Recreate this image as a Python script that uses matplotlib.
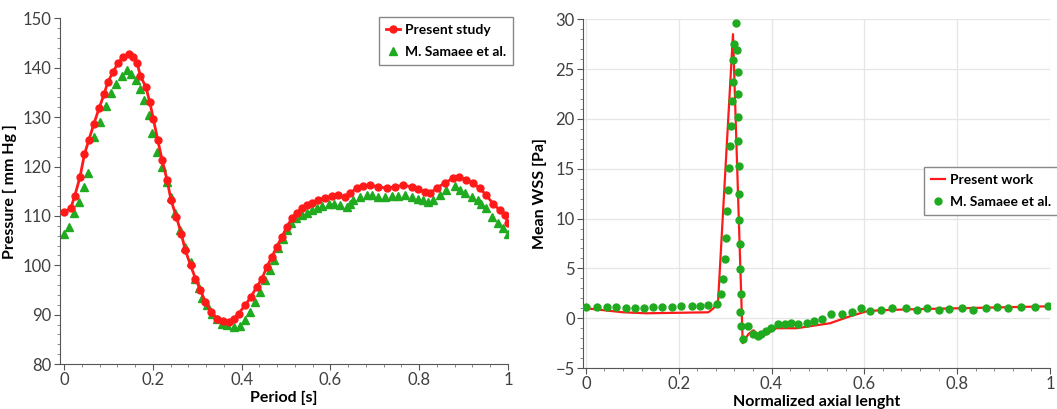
import matplotlib
matplotlib.use("Agg")
import matplotlib.pyplot as plt
from matplotlib.ticker import MultipleLocator

plt.rcParams['font.family'] = ['Lato', 'DejaVu Sans']

# Pressure over one period
t_present = [0.0, 0.015, 0.024, 0.036, 0.046, 0.056, 0.067, 0.079, 0.090, 0.099,
             0.111, 0.121, 0.133, 0.146, 0.156, 0.165, 0.172, 0.184, 0.193, 0.201,
             0.211, 0.221, 0.232, 0.241, 0.253, 0.264, 0.273, 0.285, 0.296, 0.307,
             0.318, 0.331, 0.345, 0.358, 0.371, 0.382, 0.393, 0.408, 0.421, 0.434,
             0.446, 0.457, 0.468, 0.479, 0.491, 0.502, 0.513, 0.524, 0.536, 0.547,
             0.558, 0.573, 0.588, 0.603, 0.618, 0.633, 0.644, 0.659, 0.674, 0.689,
             0.708, 0.727, 0.745, 0.764, 0.783, 0.798, 0.813, 0.824, 0.839, 0.858,
             0.876, 0.890, 0.906, 0.921, 0.936, 0.951, 0.966, 0.981, 0.993, 1.0]
p_present = [110.8, 111.5, 114.0, 117.9, 122.5, 125.4, 128.6, 131.8, 134.6, 137.2,
             139.2, 140.9, 142.2, 142.7, 142.2, 140.9, 138.3, 136.2, 133.1, 129.7,
             125.4, 121.3, 117.3, 113.2, 109.8, 106.4, 103.1, 100.0, 97.3, 95.0,
             92.6, 90.6, 89.2, 88.8, 88.6, 89.2, 90.2, 91.9, 93.6, 95.6,
             97.3, 99.7, 101.7, 103.7, 105.8, 107.8, 109.5, 110.6, 111.5, 112.2,
             112.7, 113.2, 113.7, 114.0, 114.2, 113.9, 114.6, 115.6, 116.1, 116.2,
             115.9, 115.6, 115.9, 116.2, 115.9, 115.4, 114.9, 114.6, 115.6, 116.7,
             117.6, 117.9, 117.3, 116.6, 115.6, 114.2, 112.5, 111.2, 110.2, 108.5]

t_samaee = [0.0, 0.011, 0.022, 0.034, 0.045, 0.054, 0.067, 0.081, 0.094, 0.105,
            0.118, 0.131, 0.142, 0.151, 0.161, 0.171, 0.181, 0.191, 0.199, 0.210,
            0.221, 0.231, 0.241, 0.251, 0.262, 0.273, 0.285, 0.294, 0.303, 0.311,
            0.322, 0.333, 0.345, 0.356, 0.367, 0.382, 0.396, 0.408, 0.419, 0.431,
            0.442, 0.453, 0.463, 0.472, 0.483, 0.493, 0.502, 0.511, 0.523, 0.536,
            0.547, 0.558, 0.569, 0.581, 0.596, 0.607, 0.622, 0.637, 0.643, 0.652,
            0.667, 0.682, 0.693, 0.708, 0.723, 0.738, 0.753, 0.768, 0.783, 0.798,
            0.809, 0.820, 0.831, 0.846, 0.861, 0.880, 0.891, 0.903, 0.918, 0.933,
            0.940, 0.951, 0.965, 0.978, 0.989, 1.0]
p_samaee = [106.4, 107.8, 110.6, 112.9, 115.8, 118.7, 126.0, 129.1, 132.2, 134.8,
            136.8, 138.3, 139.5, 138.7, 137.5, 135.8, 133.5, 130.4, 126.7, 123.0,
            120.0, 116.9, 113.9, 110.5, 107.1, 103.7, 100.7, 97.3, 95.3, 93.3,
            91.9, 90.2, 89.2, 88.2, 87.9, 87.5, 87.7, 88.9, 90.6, 92.6,
            94.6, 97.0, 99.0, 101.0, 103.4, 105.4, 107.1, 108.5, 109.5, 110.2,
            110.6, 111.2, 111.5, 112.0, 112.4, 112.4, 112.2, 111.9, 112.5, 113.3,
            113.9, 114.2, 114.2, 113.9, 113.9, 114.0, 114.0, 114.2, 113.9, 113.5,
            113.2, 112.9, 113.3, 114.2, 115.2, 116.0, 115.2, 114.7, 113.9, 113.3,
            112.5, 111.5, 109.8, 108.6, 107.5, 106.4]

# Mean wall shear stress along the vessel
s_present = [0.0, 0.04, 0.08, 0.13, 0.2, 0.264, 0.275, 0.285, 0.317, 0.338,
             0.35, 0.361, 0.375, 0.389, 0.41, 0.454, 0.526, 0.569, 0.605, 0.633,
             0.7, 0.8, 0.9, 1.0]
wss_present = [1.0, 0.8, 0.6, 0.5, 0.55, 0.6, 1.0, 1.8, 28.5, -2.5,
               -1.6, -1.2, -1.8, -1.6, -1.0, -1.0, -0.5, 0.2, 0.7, 0.8,
               0.9, 1.0, 1.1, 1.2]

s_samaee = [0.001, 0.023, 0.045, 0.065, 0.086, 0.106, 0.125, 0.144, 0.164, 0.185,
            0.204, 0.228, 0.246, 0.264, 0.283, 0.2917, 0.296, 0.2989, 0.3017, 0.3046,
            0.3067, 0.3089, 0.311, 0.3125, 0.3147, 0.316, 0.3175, 0.3197, 0.3233, 0.326,
            0.3276, 0.3269, 0.3283, 0.3276, 0.3297, 0.3305, 0.3305, 0.332, 0.332, 0.3333,
            0.333, 0.334, 0.339, 0.350, 0.3606, 0.371, 0.378, 0.388, 0.399, 0.414,
            0.429, 0.443, 0.458, 0.476, 0.491, 0.508, 0.529, 0.551, 0.573, 0.593,
            0.612, 0.635, 0.659, 0.690, 0.713, 0.736, 0.760, 0.783, 0.810, 0.835,
            0.863, 0.885, 0.910, 0.938, 0.967, 0.995]
wss_samaee = [1.1, 1.1, 1.1, 1.1, 1.0, 1.0, 1.0, 1.1, 1.1, 1.1,
              1.2, 1.2, 1.2, 1.3, 1.4, 2.4, 3.9, 5.9, 8.1, 10.8,
              12.9, 15.1, 17.3, 19.3, 21.8, 23.7, 25.9, 27.5, 29.6, 26.9,
              24.7, 22.5, 20.2, 17.8, 15.3, 12.5, 9.9, 7.4, 4.9, 2.4,
              0.6, -0.8, -2.1, -0.8, -1.6, -1.8, -1.6, -1.3, -1.0, -0.6,
              -0.6, -0.5, -0.6, -0.5, -0.3, -0.1, 0.4, 0.4, 0.6, 1.0,
              0.7, 0.8, 1.0, 1.0, 0.8, 1.0, 0.8, 0.9, 1.0, 0.8,
              1.0, 1.1, 1.0, 1.1, 1.1, 1.2]

red = '#ff1a1a'
green = '#1faa1f'
tick_color = '#404040'

fig = plt.figure(figsize=(10.57, 4.09), dpi=100)
ax1 = fig.add_axes([0.0568, 0.11, 0.4238, 0.845])
ax2 = fig.add_axes([0.5516, 0.10, 0.4418, 0.853])

legend_kw = dict(borderaxespad=0, prop={'weight': 'bold', 'size': 10},
                 handlelength=1.0, handletextpad=0.35, fancybox=False,
                 edgecolor='#888888', framealpha=1, borderpad=0.5,
                 labelspacing=0.7, bbox_transform=fig.transFigure)

# left: pressure
ax1.plot(t_present, p_present, color=red, lw=2, marker='o', ms=5,
         label='Present study', zorder=3)
ax1.plot(t_samaee, p_samaee, ls='none', color=green, marker='^', ms=5.5,
         label='M. Samaee et al.', zorder=2)
ax1.set_xlim(-0.009, 1.0)
ax1.set_ylim(80, 150)
ax1.xaxis.set_minor_locator(MultipleLocator(0.04))
ax1.yaxis.set_major_locator(MultipleLocator(10))
ax1.yaxis.set_minor_locator(MultipleLocator(2))
ax1.set_xticks([0, 0.2, 0.4, 0.6, 0.8, 1.0])
ax1.set_xticklabels(['0', '0.2', '0.4', '0.6', '0.8', '1'])
ax1.set_xlabel('Period [s]', fontsize=11.5, fontweight='bold', labelpad=2)
ax1.set_ylabel('Pressure [ mm Hg ]', fontsize=11.5, fontweight='bold', labelpad=4)
ax1.legend(loc='upper right', bbox_to_anchor=(513 / 1057, 1 - 17 / 409),
           **legend_kw)

# right: wall shear stress
ax2.plot(s_present, wss_present, color=red, lw=1.6, label='Present work', zorder=2)
ax2.plot(s_samaee, wss_samaee, ls='none', color=green, marker='o', ms=5,
         label='M. Samaee et al.', zorder=3)
ax2.set_xlim(-0.006, 1.0)
ax2.set_ylim(-5, 30)
ax2.xaxis.set_minor_locator(MultipleLocator(0.04))
ax2.yaxis.set_major_locator(MultipleLocator(5))
ax2.yaxis.set_minor_locator(MultipleLocator(1))
ax2.set_xticks([0, 0.2, 0.4, 0.6, 0.8, 1.0])
ax2.set_xticklabels(['0', '0.2', '0.4', '0.6', '0.8', '1'])
ax2.grid(True, which='major', color='#e6e6e6', lw=0.9, zorder=0)
ax2.set_xlabel('Normalized axial lenght', fontsize=11.5, fontweight='bold', labelpad=2)
ax2.set_ylabel('Mean WSS [Pa]', fontsize=11.5, fontweight='bold', labelpad=6)
ax2.legend(loc='upper left', bbox_to_anchor=(924 / 1057, 1 - 167 / 409),
           **legend_kw)

for ax in (ax1, ax2):
    for side in ('top', 'right'):
        ax.spines[side].set_visible(False)
    for side in ('left', 'bottom'):
        ax.spines[side].set_color('#555555')
    ax.tick_params(which='major', length=4, color='#555555', labelsize=12,
                   labelcolor=tick_color, pad=2)
    ax.tick_params(which='minor', length=2, color='#777777')

fig.savefig('out.png', dpi=100)
